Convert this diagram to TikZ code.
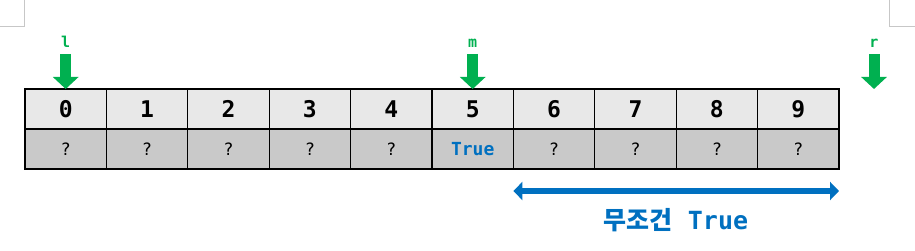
\documentclass[tikz,border=0pt]{standalone}
\usepackage{fontspec}
\setmonofont{DejaVu Sans Mono}
\newfontfamily\krfont{Noto Sans CJK KR}
\usetikzlibrary{arrows.meta,positioning}
\definecolor{ptrgreen}{RGB}{0,176,80}
\definecolor{trueblue}{RGB}{0,112,192}
\definecolor{idxgray}{RGB}{232,232,232}
\definecolor{valgray}{RGB}{201,201,201}

\begin{document}
\begin{tikzpicture}[x=1pt, y=-1pt,
        idxcell/.style={draw, line width=1.2pt, fill=idxgray, minimum width=81.4pt, minimum height=40pt,
          inner sep=0pt, outer sep=0pt, font=\ttfamily\bfseries\fontsize{23}{23}\selectfont},
        valcell/.style={draw, line width=1.2pt, fill=valgray, minimum width=81.4pt, minimum height=40pt,
          inner sep=0pt, outer sep=0pt, font=\ttfamily\fontsize{17}{17}\selectfont},
        ptrlabel/.style={anchor=base, inner sep=0pt, text=ptrgreen, font=\ttfamily\bfseries\fontsize{15}{15}\selectfont},
        ptr/.style={-{Triangle[width=25pt, length=12pt]}, line width=11pt, draw=ptrgreen},
        truespan/.style={{Triangle[width=18pt, length=9pt]}-{Triangle[width=18pt, length=9pt]}, line width=6pt, draw=trueblue},
        cropmark/.style={draw=black!22, line width=0.8pt}
      ]
      \useasboundingbox (0,0) rectangle (915,251);
      % page corner marks
      \draw[cropmark] (24,0) -- (24,26) -- (0,26);
      \draw[cropmark] (889,0) -- (889,26) -- (915,26);

      % index row and value row
      \foreach \i in {0,...,9} {
        \node[idxcell] (i\i) at (65.7+81.4*\i,109) {\i};
        \ifnum\i=5
          \node[valcell, below=0pt of i\i, text=trueblue, font=\ttfamily\bfseries\fontsize{18}{18}\selectfont] (v\i) {True};
        \else
          \node[valcell, below=0pt of i\i] (v\i) {?};
        \fi
      }

      % pointers
      \node[ptrlabel] (lblL) at (i0 |- 0,48) {l};
      \node[ptrlabel] (lblM) at (i5 |- 0,48) {m};
      \node[ptrlabel] (lblR) at (874,48) {r};
      \coordinate (rtip) at (874,89);
      \draw[ptr] ([yshift=-6pt]lblL.base) -- (i0.north);
      \draw[ptr] ([yshift=-6pt]lblM.base) -- (i5.north);
      \draw[ptr] ([yshift=-6pt]lblR.base) -- (rtip);

      % always-true span
      \draw[truespan] ([yshift=-22pt]v6.south west) -- ([yshift=-22pt]v9.south east);
      \node[text=trueblue, font=\bfseries\fontsize{25}{25}\selectfont] (spanlbl) at (676,220)
        {\krfont\bfseries 무조건\hspace{15pt}\ttfamily True};
    \end{tikzpicture}
\end{document}
